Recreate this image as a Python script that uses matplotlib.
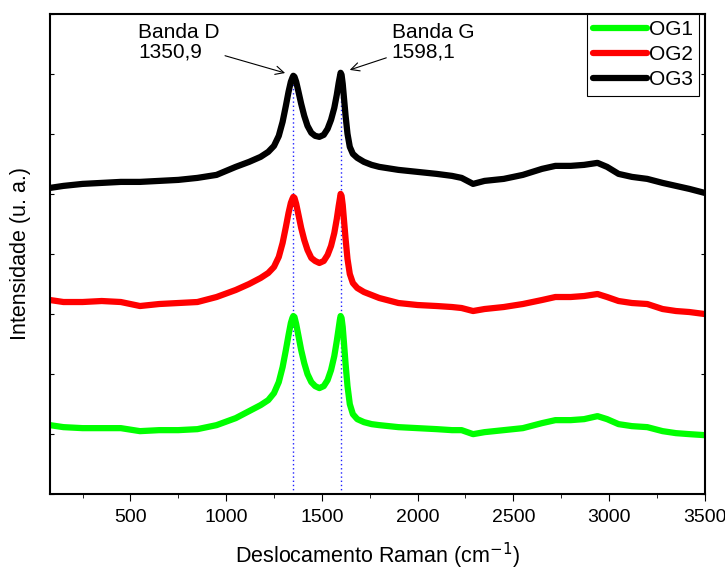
import matplotlib.pyplot as plt
from matplotlib.ticker import MultipleLocator, NullFormatter

plt.rcParams['font.family'] = ['Liberation Sans', 'DejaVu Sans']

# Deslocamento Raman (cm-1)
raman_shift = [80, 150, 250, 350, 450, 550, 650, 750, 850, 950, 1050, 1120,
               1180, 1220, 1250, 1275, 1295, 1312, 1326, 1338, 1346, 1351,
               1357, 1366, 1378, 1392, 1408, 1425, 1445, 1465, 1487, 1510,
               1530, 1548, 1565, 1578, 1588, 1594, 1598, 1603, 1609, 1616,
               1624, 1634, 1646, 1662, 1685, 1720, 1760, 1800,
               1900, 2000, 2100, 2180, 2230, 2290, 2350, 2450, 2550, 2650, 2720,
               2800, 2870, 2940, 2990, 3050, 3120, 3200, 3280, 3350, 3420, 3500]

# intensidades (u. a.), com deslocamento vertical entre as amostras
og1 = [69, 67, 66, 66, 66, 63, 64, 64, 65, 69, 76, 83,
       89, 94, 101, 112, 127, 144, 159, 171, 176, 178,
       177, 170, 158, 144, 131, 120, 112, 108, 106, 108,
       114, 124, 138, 153, 166, 174, 178, 176, 167, 150,
       130, 108, 90, 80, 75, 72, 70, 69,
       67, 66, 65, 64, 64, 60, 62, 64, 66, 71, 74,
       74, 75, 78, 75, 70, 68, 67, 63, 61, 60, 59]
og2 = [194, 192, 192, 193, 192, 188, 190, 191, 192, 197, 204, 210,
       216, 221, 227, 237, 251, 267, 281, 291, 295, 297,
       296, 290, 279, 266, 254, 244, 236, 233, 231, 233,
       239, 248, 261, 275, 288, 295, 300, 298, 289, 273,
       255, 235, 220, 211, 206, 202, 199, 196,
       191, 189, 188, 187, 186, 183, 185, 187, 190, 194, 197,
       197, 198, 200, 197, 193, 191, 190, 185, 183, 182, 180]
og3 = [306, 308, 310, 311, 312, 312, 313, 314, 316, 319, 327, 332,
       337, 342, 348, 358, 372, 388, 402, 412, 416, 418,
       417, 412, 402, 390, 378, 368, 361, 358, 357, 359,
       365, 374, 386, 399, 411, 417, 421, 419, 410, 395,
       378, 360, 347, 340, 336, 332, 329, 327,
       324, 322, 320, 318, 316, 310, 313, 315, 319, 325, 328,
       328, 329, 331, 327, 320, 317, 315, 311, 308, 305, 301]

band_pos = [1350.9, 1598.1]
band_top = [418, 421]

fig = plt.figure(figsize=(7.25, 5.72), dpi=100)
ax = fig.add_axes([0.069, 0.136, 0.903, 0.840])

for xb, yt in zip(band_pos, band_top):
    ax.plot([xb, xb], [0, yt], color='#2020ff', lw=1.0, ls=(0, (1, 2)), zorder=1)

ax.plot(raman_shift, og1, color='#00ff00', lw=4.5, label='OG1', solid_capstyle='round', zorder=2)
ax.plot(raman_shift, og2, color='red', lw=4.5, label='OG2', solid_capstyle='round', zorder=2)
ax.plot(raman_shift, og3, color='black', lw=4.5, label='OG3', solid_capstyle='round', zorder=2)

ax.annotate('Banda D\n1350,9', xy=(1322, 420), xytext=(540, 436),
            fontsize=15, linespacing=1.05,
            arrowprops=dict(arrowstyle='->', color='black', lw=0.8))
ax.annotate('Banda G\n1598,1', xy=(1632, 423), xytext=(1865, 436),
            fontsize=15, linespacing=1.05,
            arrowprops=dict(arrowstyle='->', color='black', lw=0.8))

ax.set_xlim(80, 3500)
ax.set_ylim(0, 480)
ax.xaxis.set_major_locator(MultipleLocator(500))
ax.xaxis.set_minor_locator(MultipleLocator(250))
ax.yaxis.set_major_locator(MultipleLocator(60))
ax.yaxis.set_major_formatter(NullFormatter())
ax.tick_params(axis='x', which='major', direction='out', length=5, labelsize=14, pad=6)
ax.tick_params(axis='x', which='minor', direction='out', length=3)
ax.tick_params(axis='y', which='major', direction='in', left=True, right=True, length=3)
ax.tick_params(axis='y', which='minor', length=0)

for sp in ax.spines.values():
    sp.set_linewidth(1.5)

ax.set_xlabel('Deslocamento Raman (cm$^{-1}$)', fontsize=15.5, labelpad=10)
ax.set_ylabel('Intensidade (u. a.)', fontsize=15.5, labelpad=10)

leg = ax.legend(loc='upper right', bbox_to_anchor=(0.992, 1.0), fontsize=15,
                handlelength=2.6, handletextpad=0.1, borderaxespad=0,
                fancybox=False, framealpha=1, edgecolor='black',
                labelspacing=0.3, borderpad=0.3)
leg.get_frame().set_linewidth(0.8)

fig.savefig('out.png', dpi=100)
